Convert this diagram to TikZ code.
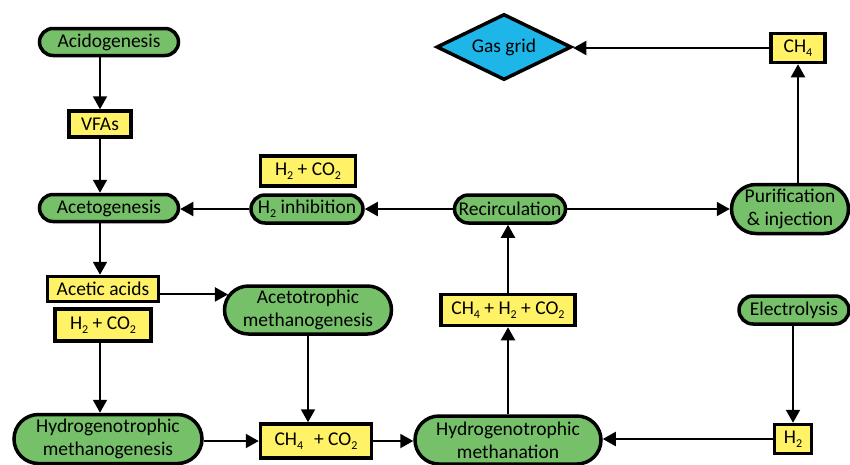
\documentclass[tikz,border=0pt]{standalone}
\usepackage{fontspec}
\setmainfont{Carlito}
\usetikzlibrary{shapes.misc,shapes.geometric,arrows.meta}
\definecolor{gfill}{RGB}{118,192,106}
\definecolor{yfill}{RGB}{255,242,102}
\definecolor{bfill}{RGB}{30,182,232}
\newcommand\sbs[1]{\raisebox{-0.45ex}{\fontsize{12}{12}\selectfont #1}}
\begin{document}
\begin{tikzpicture}[x=1pt,y=-1pt,
  proc/.style={rounded rectangle, draw, line width=3.5pt, fill=gfill, inner sep=0pt, align=center, font=\fontsize{19.5}{23}\selectfont},
  gas/.style={rectangle, draw, line width=3.5pt, fill=yfill, inner sep=0pt, align=center, font=\fontsize{19.5}{23}\selectfont},
  arr/.style={line width=2pt, -{Triangle[length=13pt,width=14pt]}}]
\useasboundingbox[fill=white] (0,0) rectangle (850,464);
\node[proc, minimum width=139, minimum height=27] (acido) at (109,42) {Acidogenesis};
\node[gas, minimum width=62, minimum height=26] (vfa) at (100,124) {VFAs};
\node[proc, minimum width=139, minimum height=27] (aceto) at (109,208) {Acetogenesis};
\node[proc, minimum width=112, minimum height=28] (inhib) at (307,209) {H\sbs{2} inhibition};
\node[gas, minimum width=95, minimum height=30] (h2co2a) at (308,171) {H\sbs{2} + CO\sbs{2}};
\node[proc, minimum width=111, minimum height=28] (recirc) at (510,209) {Recirculation};
\node[proc, minimum width=117, minimum height=49] (purif) at (790,209) {Purification\\\& injection};
\node[gas, minimum width=54, minimum height=29] (ch4a) at (798,48) {CH\sbs{4}};
\node[diamond, aspect=2, draw, line width=3.5pt, fill=bfill, inner sep=0pt, minimum width=135, minimum height=66, font=\fontsize{19.5}{23}\selectfont] (grid) at (504,47) {Gas grid};
\node[gas, minimum width=111, minimum height=25] (acetic) at (103,289) {Acetic acids};
\node[gas, minimum width=96, minimum height=32] (h2co2b) at (103,325) {H\sbs{2} + CO\sbs{2}};
\node[proc, minimum width=167, minimum height=48] (acetotr) at (308,310) {Acetotrophic\\methanogenesis};
\node[proc, minimum width=188, minimum height=49] (hmg) at (108,439) {Hydrogenotrophic\\methanogenesis};
\node[gas, minimum width=111, minimum height=34] (ch4co2) at (316,441) {CH\sbs{4}\,\, + CO\sbs{2}};
\node[proc, minimum width=186, minimum height=48] (hmn) at (508,440) {Hydrogenotrophic\\methanation};
\node[gas, minimum width=134, minimum height=31] (mix) at (508,310) {CH\sbs{4} + H\sbs{2} + CO\sbs{2}};
\node[proc, minimum width=110, minimum height=28] (elec) at (794,310) {Electrolysis};
\node[gas, minimum width=37, minimum height=29] (h2) at (793,439) {H\sbs{2}};
\draw[arr] (vfa |- acido.south) -- (vfa.north);
\draw[arr] (vfa.south) -- (vfa |- aceto.north);
\draw[arr] (inhib.west) -- (inhib.west -| aceto.east);
\draw[arr] (recirc.west) -- (inhib.east);
\draw[arr] (recirc.east) -- (purif.west);
\draw[arr] (ch4a |- purif.north) -- (ch4a.south);
\draw[arr] (ch4a.west) -- (ch4a.west -| grid.east);
\draw[arr] (vfa |- aceto.south) -- (vfa |- acetic.north);
\draw[arr] (acetic.east |- acetotr.169.5) -- (acetotr.169.5);
\draw[arr] (vfa |- h2co2b.south) -- (vfa |- hmg.north);
\draw[arr] (acetotr.south) -- (acetotr.south |- ch4co2.north);
\draw[arr] (hmg.east |- ch4co2) -- (ch4co2.west);
\draw[arr] (ch4co2.east) -- (ch4co2.east -| hmn.west);
\draw[arr] (hmn.north) -- (mix.south);
\draw[arr] (mix.north) -- (mix.north |- recirc.south);
\draw[arr] (h2 |- elec.south) -- (h2.north);
\draw[arr] (h2.west) -- (h2.west -| hmn.east);
\end{tikzpicture}
\end{document}
